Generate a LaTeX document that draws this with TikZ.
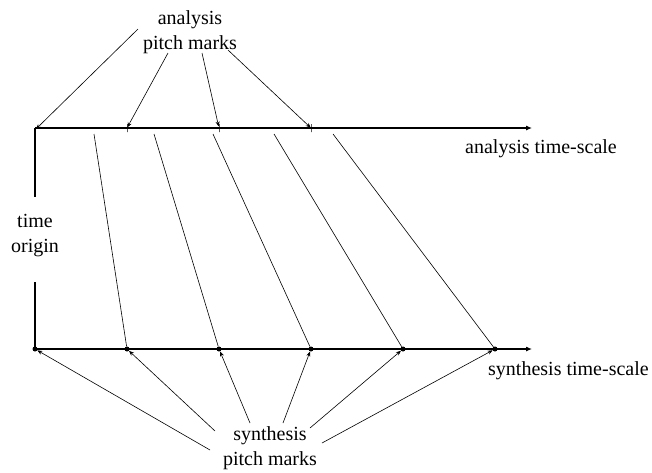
\documentclass[tikz,border=0pt]{standalone}
\usepackage{fontspec}
\setmainfont{Liberation Serif}
\usetikzlibrary{arrows.meta}

\begin{document}
\begin{tikzpicture}[x=1pt,y=-1pt,
        lbl/.style = {align=center,inner sep=0pt,font=\fontsize{20}{25}\selectfont},
        axis/.style = {line width=1.1pt,-{Latex[length=6pt,width=5pt]}},
        ptr/.style = {line width=0.6pt,-{Stealth[length=5pt,width=4pt]}},
        slant/.style = {line width=0.6pt},
        dot/.style = {circle,fill,inner sep=0pt,minimum size=5pt},
        tick/.style = {draw,line width=0.7pt,inner sep=0pt,minimum width=0pt,minimum height=8pt}]
        \useasboundingbox (0,0) rectangle (652,472);
        % analysis time-scale
        \coordinate (a0) at (35,128);
        \node[tick] (a1) at (127,128) {};
        \node[tick] (a2) at (219,128) {};
        \node[tick] (a3) at (311,128) {};
        \coordinate (aend) at (532,128);
        \draw[axis] (a0) -- (aend);
        \node[lbl,anchor=base west] (alabel) at (465,153) {analysis time-scale};
        % synthesis time-scale
        \node[dot] (s0) at (35,349) {};
        \node[dot] (s1) at (127,349) {};
        \node[dot] (s2) at (219,349) {};
        \node[dot] (s3) at (311,349) {};
        \node[dot] (s4) at (403,349) {};
        \node[dot] (s5) at (495,349) {};
        \coordinate (send) at (532,349);
        \draw[axis] (s0.center) -- (send);
        \node[lbl,anchor=base west] (slabel) at (488,375) {synthesis time-scale};
        % time origin
        \node[lbl] (origin) at (35,236) {time\\origin};
        \draw[line width=1.1pt] (a0) -- ([yshift=18pt]origin.north);
        \draw[line width=1.1pt] ([yshift=-25pt]origin.south) -- (s0.center);
        % mapping lines
        \coordinate (t1) at (94,134);
        \coordinate (t2) at (154,134);
        \coordinate (t3) at (213,134);
        \coordinate (t4) at (274,134);
        \coordinate (t5) at (333,134);
        \draw[slant] (t1) -- (s1);
        \draw[slant] (t2) -- (s2);
        \draw[slant] (t3) -- (s3);
        \draw[slant] (t4) -- (s4);
        \draw[slant] (t5) -- (s5);
        % analysis pitch marks
        \node[lbl] (apm) at (190,32) {analysis\\pitch marks};
        \coordinate (ap0) at (138,29);
        \coordinate (ap1) at (168,53);
        \coordinate (ap2) at (202,53);
        \coordinate (ap3) at (228,50);
        \draw[ptr] (ap0) -- ([xshift=1pt,yshift=-1pt]a0);
        \draw[ptr] (ap1) -- (a1);
        \draw[ptr] (ap2) -- (a2);
        \draw[ptr] (ap3) -- (a3);
        % synthesis pitch marks
        \node[lbl] (spm) at (270,448) {synthesis\\pitch marks};
        \coordinate (sp0) at (210,450);
        \coordinate (sp1) at (215,431);
        \coordinate (sp2) at (250,423);
        \coordinate (sp3) at (283,423);
        \coordinate (sp4) at (310,428);
        \coordinate (sp5) at (322,443);
        \draw[ptr] (sp0) -- (s0);
        \draw[ptr] (sp1) -- (s1);
        \draw[ptr] (sp2) -- (s2);
        \draw[ptr] (sp3) -- (s3);
        \draw[ptr] (sp4) -- (s4);
        \draw[ptr] (sp5) -- (s5);
\end{tikzpicture}
\end{document}
